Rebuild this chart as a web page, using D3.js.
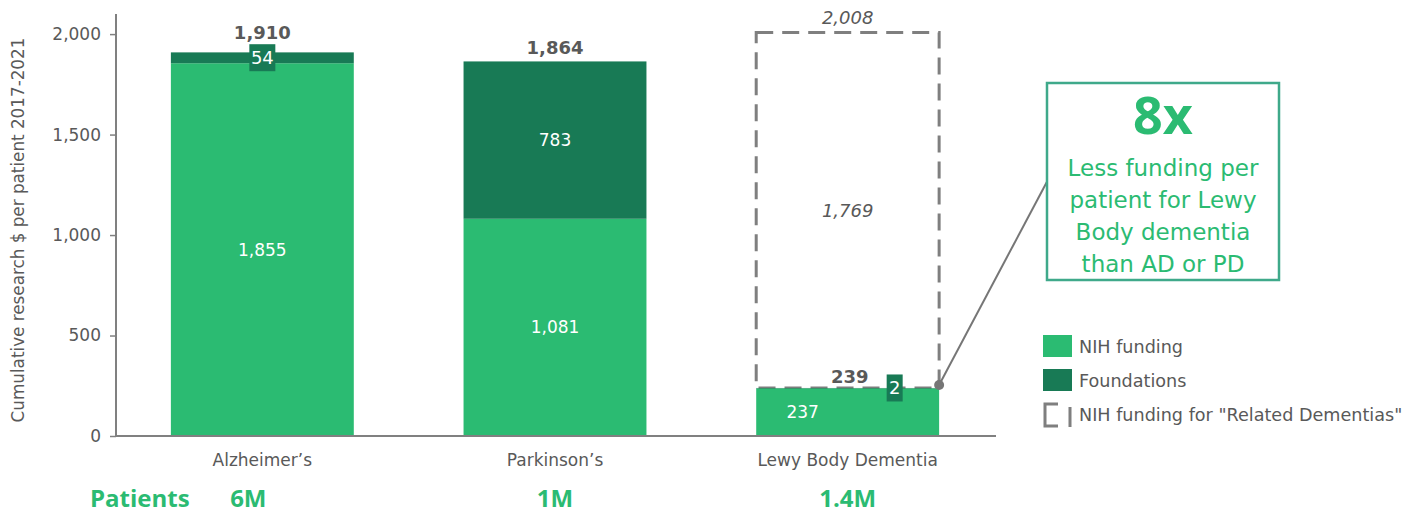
<!DOCTYPE html>
<html><head><meta charset="utf-8">
<script src="https://cdn.jsdelivr.net/npm/d3@7"></script>
<style>
body{margin:0;background:#fff;}
text{font-family:"DejaVu Sans",sans-serif;}
</style></head>
<body>
<svg id="chart" width="1426" height="517"></svg>
<script>
const categories = ["Alzheimer’s", "Parkinson’s", "Lewy Body Dementia"];
const nihFunding = [1855, 1081, 237];
const foundations = [54, 783, 2];
const totals = [1910, 1864, 239];
const relatedDementias = [null, null, 1769];
const relatedTotal = [null, null, 2008];
const patients = ["6M", "1M", "1.4M"];
const yTicks = [0, 500, 1000, 1500, 2000];

const GREEN = "#2bbb72", DARK = "#187a55", GRAY = "#595959", DASH = "#7f7f7f";
const svg = d3.select("#chart");

const x = d3.scaleBand().domain(categories).range([116, 994]).paddingInner(0.375).paddingOuter(0.1875);
const y = d3.scaleLinear().domain([0, 2100]).range([436, 14]);
const fmt = d3.format(",");

// y axis
const yAxis = svg.append("g").attr("transform", "translate(116,0)")
  .call(d3.axisLeft(y).tickValues(yTicks).tickSize(6).tickPadding(9).tickFormat(fmt));
yAxis.select(".domain").attr("stroke", "#808080").attr("stroke-width", 2).attr("d", "M0," + y(2100) + "V" + y(0));
yAxis.selectAll(".tick line").attr("stroke", "#808080").attr("stroke-width", 1.5);
yAxis.selectAll(".tick text").attr("fill", GRAY).style("font-size", "17px").style("font-family", "DejaVu Sans");

svg.append("text").attr("transform", "translate(24," + 230 + ") rotate(-90)")
  .attr("text-anchor", "middle").attr("fill", GRAY).style("font-size", "16.8px")
  .text("Cumulative research $ per patient 2017-2021");

const cx = i => x(categories[i]) + x.bandwidth() / 2;

// related dementias dashed box (drawn under bars)
categories.forEach((c, i) => {
  if (relatedDementias[i] == null) return;
  const bx = x(c), bw = x.bandwidth();
  svg.append("rect").attr("x", bx).attr("width", bw)
    .attr("y", y(totals[i] + relatedDementias[i])).attr("height", y(totals[i]) - y(totals[i] + relatedDementias[i]))
    .attr("fill", "none").attr("stroke", DASH).attr("stroke-width", 3).attr("stroke-dasharray", "17,9");
});

// bars
const g = svg.append("g");
categories.forEach((c, i) => {
  const bx = x(c), bw = x.bandwidth();
  g.append("rect").attr("x", bx).attr("width", bw).attr("y", y(nihFunding[i])).attr("height", y(0) - y(nihFunding[i])).attr("fill", GREEN);
  g.append("rect").attr("x", bx).attr("width", bw).attr("y", y(nihFunding[i] + foundations[i])).attr("height", y(nihFunding[i]) - y(nihFunding[i] + foundations[i])).attr("fill", DARK);
});

categories.forEach((c, i) => {
  if (relatedDementias[i] == null) return;
  svg.append("text").attr("x", cx(i)).attr("y", y((totals[i] + relatedTotal[i]) / 2)).attr("dy", "0.35em")
    .attr("text-anchor", "middle").attr("fill", GRAY).style("font-size", "18px").style("font-style", "italic")
    .text(fmt(relatedDementias[i]));
  svg.append("text").attr("x", cx(i)).attr("y", y(relatedTotal[i]) - 15).attr("dy", "0.35em")
    .attr("text-anchor", "middle").attr("fill", GRAY).style("font-size", "18px").style("font-style", "italic")
    .text(fmt(relatedTotal[i]));
});

// x axis
svg.append("line").attr("x1", 116).attr("x2", 996).attr("y1", y(0)).attr("y2", y(0)).attr("stroke", "#808080").attr("stroke-width", 2);
categories.forEach((c) => {
  svg.append("text").attr("x", x(c) + x.bandwidth() / 2).attr("y", 460).attr("dy", "0.35em")
    .attr("text-anchor", "middle").attr("fill", GRAY).style("font-size", "17px").text(c);
});

// value labels
[0, 1].forEach(i => {
  svg.append("text").attr("x", cx(i)).attr("y", (y(nihFunding[i]) + y(0)) / 2).attr("dy", "0.35em")
    .attr("text-anchor", "middle").attr("fill", "#fff").style("font-size", "17px").text(fmt(nihFunding[i]));
});
svg.append("text").attr("x", cx(2) - 45).attr("y", (y(nihFunding[2]) + y(0)) / 2).attr("dy", "0.35em")
  .attr("text-anchor", "middle").attr("fill", "#fff").style("font-size", "17px").text(fmt(nihFunding[2]));
svg.append("text").attr("x", cx(1)).attr("y", (y(nihFunding[1]) + y(totals[1])) / 2).attr("dy", "0.35em")
  .attr("text-anchor", "middle").attr("fill", "#fff").style("font-size", "17px").text(fmt(foundations[1]));
function boxLabel(px, py, txt, w) {
  svg.append("rect").attr("x", px - w / 2).attr("y", py - 13.5).attr("width", w).attr("height", 27).attr("fill", DARK);
  svg.append("text").attr("x", px).attr("y", py).attr("dy", "0.35em").attr("text-anchor", "middle")
    .attr("fill", "#fff").style("font-size", "18px").text(txt);
}
boxLabel(cx(0), (y(nihFunding[0]) + y(totals[0])) / 2, fmt(foundations[0]), 26);
boxLabel(cx(2) + 47, y(totals[2]), fmt(foundations[2]), 16);
const totOff = [19, 14, 11];
totals.forEach((t, i) => {
  svg.append("text").attr("x", cx(i) + (i === 2 ? 2 : 0)).attr("y", y(t) - totOff[i]).attr("dy", "0.35em")
    .attr("text-anchor", "middle").attr("fill", GRAY).style("font-size", "18px").style("font-weight", "bold").text(fmt(t));
});

// patients row
svg.append("text").attr("x", 90).attr("y", 499).attr("dy", "0.35em").attr("fill", GREEN)
  .style("font-size", "24px").style("font-weight", "bold").style("font-family", "Open Sans").text("Patients");
const pOff = [-14, 0, 0];
patients.forEach((p, i) => {
  svg.append("text").attr("x", cx(i) + pOff[i]).attr("y", 499).attr("dy", "0.35em").attr("text-anchor", "middle")
    .attr("fill", GREEN).style("font-size", "24px").style("font-weight", "bold").style("font-family", "Open Sans").text(p);
});

// callout
const dotX = x(categories[2]) + x.bandwidth(), dotY = y(totals[2]) - 3;
svg.append("line").attr("x1", dotX).attr("y1", dotY).attr("x2", 1050).attr("y2", 176).attr("stroke", "#767676").attr("stroke-width", 2);
svg.append("circle").attr("cx", dotX).attr("cy", dotY).attr("r", 5).attr("fill", "#767676");
svg.append("rect").attr("x", 1047).attr("y", 83).attr("width", 232).attr("height", 197).attr("fill", "#fff").attr("stroke", "#3fa98a").attr("stroke-width", 2.5);
svg.append("text").attr("x", 1163).attr("y", 116).attr("dy", "0.35em").attr("text-anchor", "middle").attr("fill", GREEN)
  .style("font-size", "52px").style("font-weight", "bold").style("font-family", "Open Sans").text("8x");
["Less funding per", "patient for Lewy", "Body dementia", "than AD or PD"].forEach((t, i) => {
  svg.append("text").attr("x", 1163).attr("y", 168 + i * 32).attr("dy", "0.35em").attr("text-anchor", "middle")
    .attr("fill", GREEN).style("font-size", "23px").text(t);
});

// legend
const leg = svg.append("g");
leg.append("rect").attr("x", 1043).attr("y", 335).attr("width", 29).attr("height", 22).attr("fill", GREEN);
leg.append("rect").attr("x", 1043).attr("y", 369).attr("width", 29).attr("height", 22).attr("fill", DARK);
leg.append("path").attr("d", "M1058,404H1045V426H1058 M1070,407V427").attr("fill", "none").attr("stroke", DASH).attr("stroke-width", 3);
[["NIH funding", 347], ["Foundations", 381], ["NIH funding for \"Related Dementias\"", 415]].forEach(([t, ly]) => {
  leg.append("text").attr("x", 1079).attr("y", ly).attr("dy", "0.35em").attr("fill", GRAY).style("font-size", "17.6px").text(t);
});
</script>
</body></html>
